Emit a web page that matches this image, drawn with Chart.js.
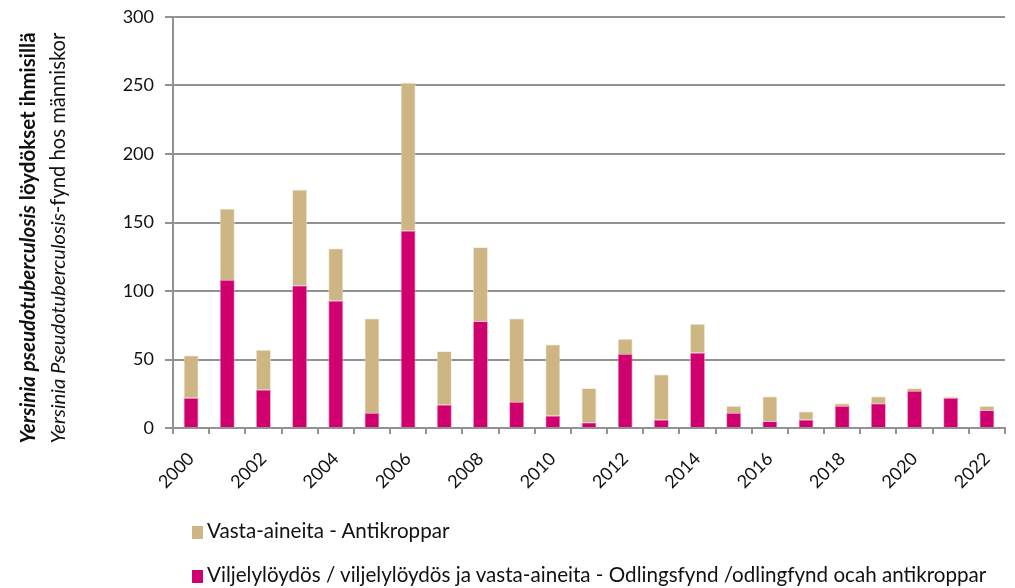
<!DOCTYPE html>
<html>
<head>
<meta charset="utf-8">
<script src="https://cdn.jsdelivr.net/npm/chart.js@4.4.1/dist/chart.umd.min.js"></script>
<style>
  body { margin: 0; background: #fff; }
  #wrap { position: relative; width: 1015px; height: 588px; }
  .leg { position: absolute; left: 192px; font: 20.6px Lato, sans-serif; color: #111; white-space: nowrap; }
  .leg span { display: inline-block; width: 11px; height: 13px; margin-right: 4px; vertical-align: -1px; }
</style>
</head>
<body>
<div id="wrap">
  <canvas id="yersiniaChart"></canvas>
  <div class="leg" style="top:518px"><span style="background:#CDB684"></span>Vasta-aineita - Antikroppar</div>
  <div class="leg" style="top:562px"><span style="background:#D0006F"></span>Viljelylöydös / viljelylöydös ja vasta-aineita - Odlingsfynd /odlingfynd ocah antikroppar</div>
</div>
<script>
// Vuodet / år
var years = ['2000','2001','2002','2003','2004','2005','2006','2007','2008','2009','2010','2011',
             '2012','2013','2014','2015','2016','2017','2018','2019','2020','2021','2022'];
// Viljelylöydös (alin osa pylväästä)
var cultureFinds = [22,108,28,104,93,11,144,17,78,19,9,4,54,6,55,11,5,6,16,18,27,22,13];
// Vasta-aineita (päällä)
var antibodies   = [31,52,29,70,38,69,108,39,54,61,52,25,11,33,21,5,18,6,2,5,2,1,3];
var yTicks = [0,50,100,150,200,250,300];

var titleLine1 = ['Yersinia pseudotuberculosis', ' löydökset ihmisillä'];
var titleLine2 = ['Yersinia Pseudotuberculosis', '-fynd hos människor'];

var fam = 'Lato, "Liberation Sans", sans-serif';

// y-akselin otsikko kahdella rivillä, sekafontit
function drawRotated(ctx, x, y, parts) {
    var total = 0;
    parts.forEach(function(p) { ctx.font = p[1]; total += ctx.measureText(p[0]).width; });
    ctx.save();
    ctx.translate(x, y);
    ctx.rotate(-Math.PI / 2);
    ctx.textBaseline = 'middle';
    ctx.textAlign = 'left';
    ctx.fillStyle = '#111';
    var pos = -total / 2;
    parts.forEach(function(p) {
        ctx.font = p[1];
        ctx.fillText(p[0], pos, 0);
        pos += ctx.measureText(p[0]).width;
    });
    ctx.restore();
}

var yTitle = {
    id: 'yTitle',
    afterDraw: function(chart) {
        var ctx = chart.ctx;
        drawRotated(ctx, 28, 238, [[titleLine1[0], 'italic bold 20.5px ' + fam], [titleLine1[1], 'bold 20.5px ' + fam]]);
        drawRotated(ctx, 58, 238, [[titleLine2[0], 'italic 20.2px ' + fam], [titleLine2[1], '20.2px ' + fam]]);
    }
};

var ctx = document.getElementById('yersiniaChart').getContext('2d');
var chart = new Chart(ctx, {
    type: 'bar',
    data: {
        labels: years,
        datasets: [{
            label: 'Viljelylöydös / viljelylöydös ja vasta-aineita - Odlingsfynd /odlingfynd ocah antikroppar',
            data: cultureFinds,
            backgroundColor: '#D0006F',
            borderColor: '#E88AB8',
            borderWidth: 0.8
        }, {
            label: 'Vasta-aineita - Antikroppar',
            data: antibodies,
            backgroundColor: '#CDB684',
            borderColor: '#EDE3CC',
            borderWidth: 0.8
        }]
    },
    options: {
        responsive: true,
        maintainAspectRatio: false,
        animation: false,
        layout: { padding: { top: 17, right: 10, left: 0, bottom: 0 } },
        datasets: { bar: { categoryPercentage: 1, barPercentage: 0.41 } },
        plugins: {
            legend: { display: false },
            tooltip: { enabled: false }
        },
        scales: {
            x: {
                stacked: true,
                afterFit: function(s) { s.height = 160; s.paddingLeft = 0; s.paddingRight = 0; },
                grid: { drawOnChartArea: false, drawTicks: true, tickLength: 6, color: '#929292', lineWidth: 2, offset: true },
                border: { color: '#929292', width: 2 },
                ticks: {
                    autoSkip: false,
                    maxRotation: 45,
                    minRotation: 45,
                    padding: 14,
                    color: '#111',
                    font: { family: fam, size: 18 },
                    callback: function(v, i) { return i % 2 === 0 ? years[i] : ''; }
                }
            },
            y: {
                stacked: true,
                min: 0,
                max: 300,
                afterFit: function(s) { s.width = 173; s.paddingTop = 0; s.paddingBottom = 0; },
                afterBuildTicks: function(s) { s.ticks = yTicks.map(function(v) { return { value: v }; }); },
                grid: { color: '#929292', lineWidth: 2, tickLength: 8 },
                border: { color: '#929292', width: 2 },
                ticks: {
                    padding: 11,
                    color: '#111',
                    font: { family: fam, size: 18 }
                }
            }
        }
    },
    plugins: [yTitle]
});
</script>
</body>
</html>
